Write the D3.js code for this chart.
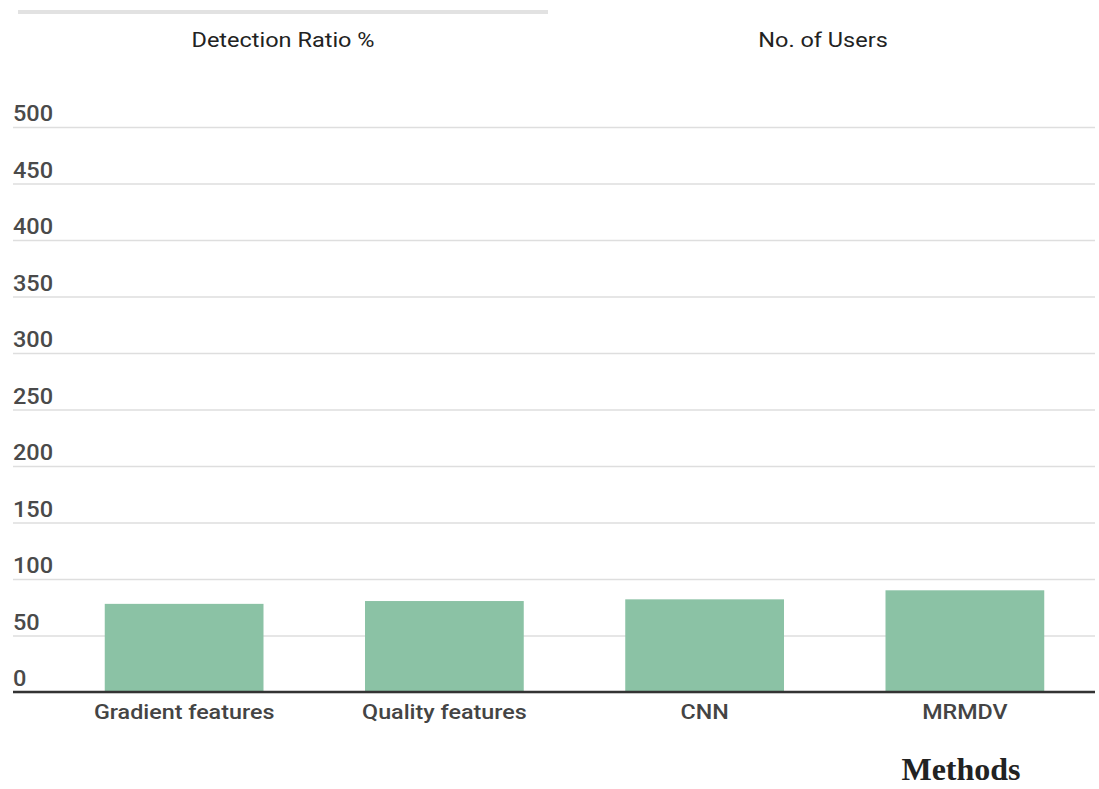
<!DOCTYPE html>
<html><head><meta charset="utf-8">
<script src="https://cdn.jsdelivr.net/npm/d3@7"></script>
<style>body{margin:0;background:#fff}svg{display:block}</style>
</head><body>
<svg id="c" width="1099" height="789"></svg>
<script>
const categories = ["Gradient features","Quality features","CNN","MRMDV"];
const detectionRatio = [78, 80.5, 82, 90];
const yTicks = [0,50,100,150,200,250,300,350,400,450,500];
const seriesNames = ["Detection Ratio %","No. of Users"];
const xTitle = "Methods";

const svg = d3.select("#c");
const y = d3.scaleLinear().domain([0,500]).range([692,127]);
const x = d3.scaleBand().domain(categories).range([54,1095]).paddingInner(0.39).paddingOuter(0.195);

// top gray bar
svg.append("line").attr("x1",18).attr("x2",548).attr("y1",12).attr("y2",12)
  .attr("stroke","#e2e2e2").attr("stroke-width",4);

// series titles
const titleX = [283, 823];
svg.selectAll(".st").data(seriesNames).enter().append("text")
  .attr("transform",(d,i)=>`translate(${titleX[i]},47) scale(1.12,1)`).attr("text-anchor","middle")
  .attr("font-family","Roboto, sans-serif").attr("font-size",21).attr("fill","#222")
  .text(d=>d);

// gridlines
const grid = svg.append("g").attr("transform","translate(13,0)")
  .call(d3.axisLeft(y).tickValues(yTicks).tickSize(-(1095-13)).tickFormat(""));
grid.select(".domain").remove();
grid.selectAll(".tick line").attr("stroke","#dedede").attr("stroke-width",1.5);

// y labels above lines
svg.selectAll(".yl").data(yTicks).enter().append("text")
  .attr("transform",d=>`translate(13,${y(d)-6}) scale(1.07,1)`)
  .attr("font-family","Roboto, sans-serif").attr("font-size",22).attr("font-weight",500)
  .attr("fill","#4a4a4a").text(d=>d);

// bars
svg.selectAll(".bar").data(categories).enter().append("rect")
  .attr("x",d=>x(d)).attr("width",x.bandwidth())
  .attr("y",(d,i)=>y(detectionRatio[i])).attr("height",(d,i)=>y(0)-y(detectionRatio[i]))
  .attr("fill","#8bc2a5");

// x axis labels
svg.selectAll(".xl").data(categories).enter().append("text")
  .attr("transform",d=>`translate(${x(d)+x.bandwidth()/2},719) scale(1.11,1)`)
  .attr("text-anchor","middle")
  .attr("font-family","Roboto, sans-serif").attr("font-size",21).attr("font-weight",500)
  .attr("fill","#444").text(d=>d);
svg.append("line").attr("x1",13).attr("x2",1095).attr("y1",692).attr("y2",692)
  .attr("stroke","#333").attr("stroke-width",2.5);

svg.append("text").attr("x",961).attr("y",780).attr("text-anchor","middle")
  .attr("font-family","Liberation Serif, serif").attr("font-weight","bold").attr("font-size",32)
  .attr("fill","#222").text(xTitle);
</script>
</body></html>
